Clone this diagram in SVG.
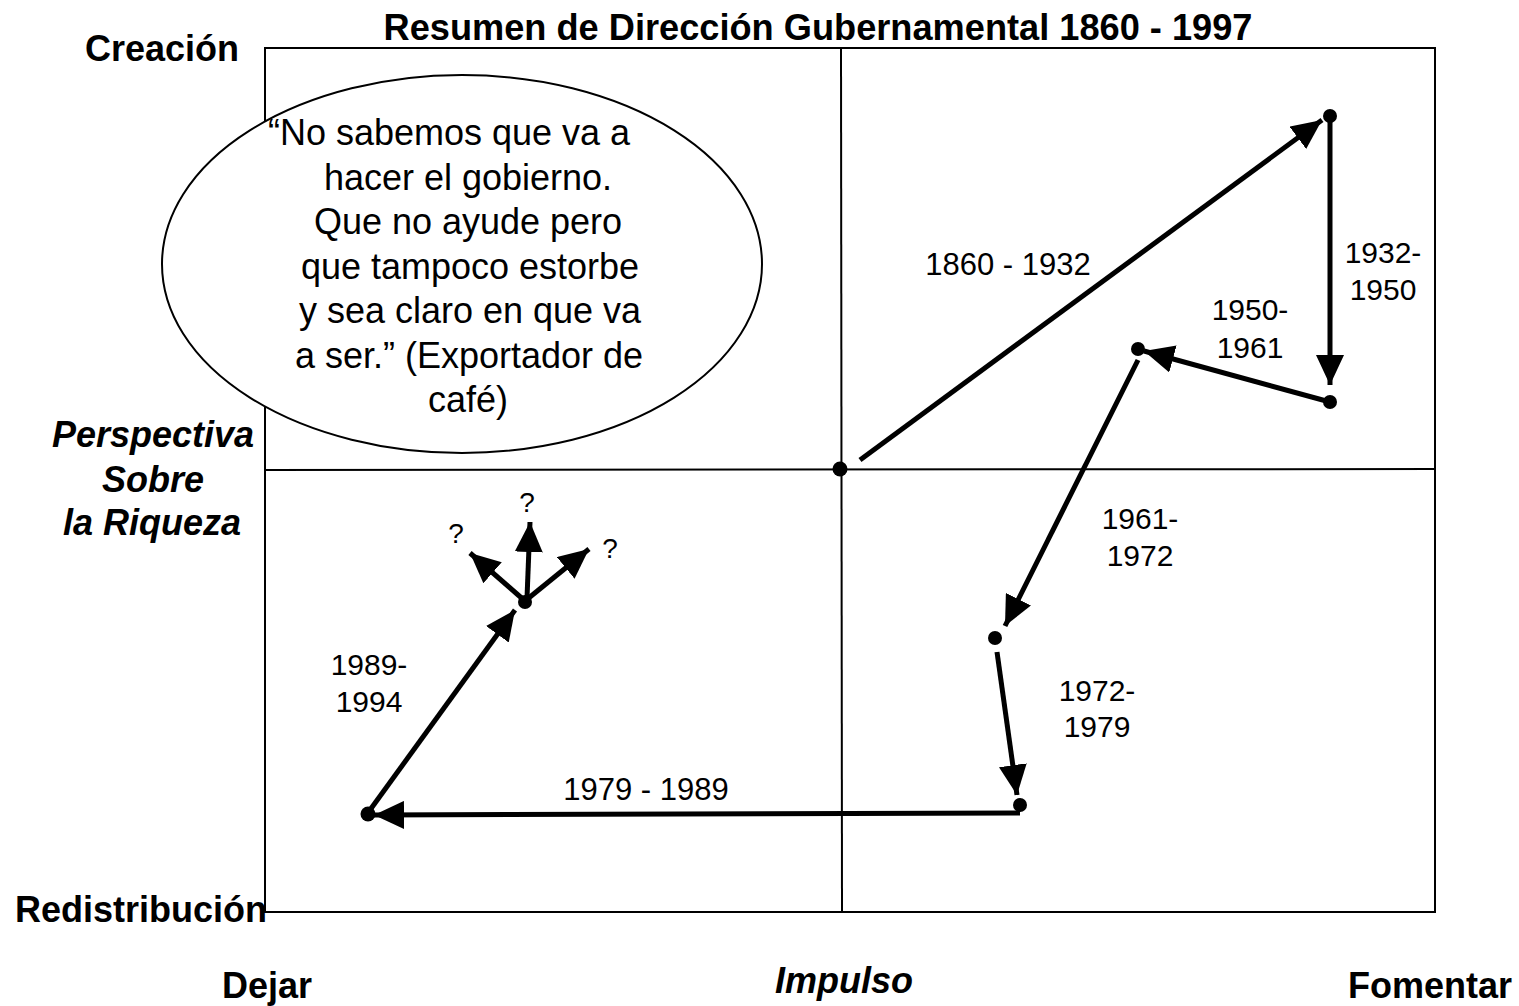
<svg xmlns="http://www.w3.org/2000/svg" width="1519" height="1006" viewBox="0 0 1519 1006">
<style>
.t{font-family:"Liberation Sans",Arial,sans-serif;fill:#000}
.b{font-weight:bold}
.i{font-style:italic}
.ax36{font-size:36px}
.lab{font-size:30px;text-anchor:middle}
.lab31{font-size:31px;text-anchor:middle}
.q{font-size:36px;text-anchor:middle}
.qm{font-size:28px;text-anchor:middle}
.ax{stroke:#000;stroke-width:2;fill:none}
.ar{stroke:#000;stroke-width:5;fill:none;marker-end:url(#ah)}
.dot{fill:#000}
</style>
<defs>
<marker id="ah" markerUnits="userSpaceOnUse" viewBox="0 0 30 28" refX="30" refY="14" markerWidth="30" markerHeight="28" orient="auto">
<path d="M0,0 L30,14 L0,28 z" fill="#000"/>
</marker>
</defs>
<rect width="1519" height="1006" fill="#fff"/>
<g id="frame">
<rect class="ax" x="265" y="48" width="1170" height="864"/>
<line class="ax" x1="841" y1="48" x2="842" y2="912"/>
<line class="ax" x1="265" y1="470" x2="1435" y2="469"/>
</g>
<g id="titles">
<text class="t b" x="818" y="40" font-size="36" text-anchor="middle" textLength="869" lengthAdjust="spacingAndGlyphs">Resumen de Dirección Gubernamental 1860 - 1997</text>
<text class="t b ax36" x="85" y="61">Creación</text>
<text class="t b i ax36" x="52" y="447">Perspectiva</text>
<text class="t b i ax36" x="102" y="492">Sobre</text>
<text class="t b i ax36" x="63" y="535">la Riqueza</text>
<text class="t b ax36" x="15" y="922">Redistribución</text>
<text class="t b ax36" x="222" y="998">Dejar</text>
<text class="t b i ax36" x="844" y="993" text-anchor="middle">Impulso</text>
<text class="t b ax36" x="1512" y="998" text-anchor="end">Fomentar</text>
</g>
<g id="quote">
<ellipse cx="462" cy="264" rx="300" ry="189" fill="#fff" stroke="#000" stroke-width="2"/>
<text class="t q" x="449" y="145">“No sabemos que va a</text>
<text class="t q" x="468" y="190">hacer el gobierno.</text>
<text class="t q" x="468" y="234">Que no ayude pero</text>
<text class="t q" x="470" y="279">que tampoco estorbe</text>
<text class="t q" x="470" y="323">y sea claro en que va</text>
<text class="t q" x="469" y="368">a ser.” (Exportador de</text>
<text class="t q" x="468" y="412">café)</text>
</g>
<g id="connectors">
<line class="ar" x1="860" y1="460" x2="1322" y2="120"/>
<line class="ar" x1="1330" y1="116" x2="1330" y2="385"/>
<line class="ar" x1="1330" y1="402" x2="1144" y2="351"/>
<line class="ar" x1="1138" y1="360" x2="1005" y2="626"/>
<line class="ar" x1="997" y1="652" x2="1017" y2="795"/>
<line class="ar" x1="1020" y1="813" x2="374" y2="815"/>
<line class="ar" x1="370" y1="810" x2="515" y2="610"/>
<line class="ar" x1="527" y1="598" x2="530" y2="522"/>
<line class="ar" x1="525" y1="601" x2="470" y2="553"/>
<line class="ar" x1="525" y1="601" x2="589" y2="549"/>
</g>
<g id="points">
<circle class="dot" cx="840" cy="469" r="7.5"/>
<circle class="dot" cx="1330" cy="116" r="7"/>
<circle class="dot" cx="1330" cy="402" r="7"/>
<circle class="dot" cx="1138" cy="349" r="7"/>
<circle class="dot" cx="995" cy="638" r="7"/>
<circle class="dot" cx="1020" cy="805" r="7"/>
<circle class="dot" cx="368" cy="814" r="7.5"/>
<circle class="dot" cx="525" cy="602" r="7"/>
</g>
<g id="labels">
<text class="t lab31" x="1008" y="275">1860 - 1932</text>
<text class="t lab" x="1383" y="263">1932-</text>
<text class="t lab" x="1383" y="300">1950</text>
<text class="t lab" x="1250" y="320">1950-</text>
<text class="t lab" x="1250" y="358">1961</text>
<text class="t lab" x="1140" y="529">1961-</text>
<text class="t lab" x="1140" y="566">1972</text>
<text class="t lab" x="1097" y="701">1972-</text>
<text class="t lab" x="1097" y="737">1979</text>
<text class="t lab31" x="646" y="800">1979 - 1989</text>
<text class="t lab" x="369" y="675">1989-</text>
<text class="t lab" x="369" y="712">1994</text>
<text class="t qm" x="456" y="543">?</text>
<text class="t qm" x="527" y="512">?</text>
<text class="t qm" x="610" y="558">?</text>
</g>
</svg>
